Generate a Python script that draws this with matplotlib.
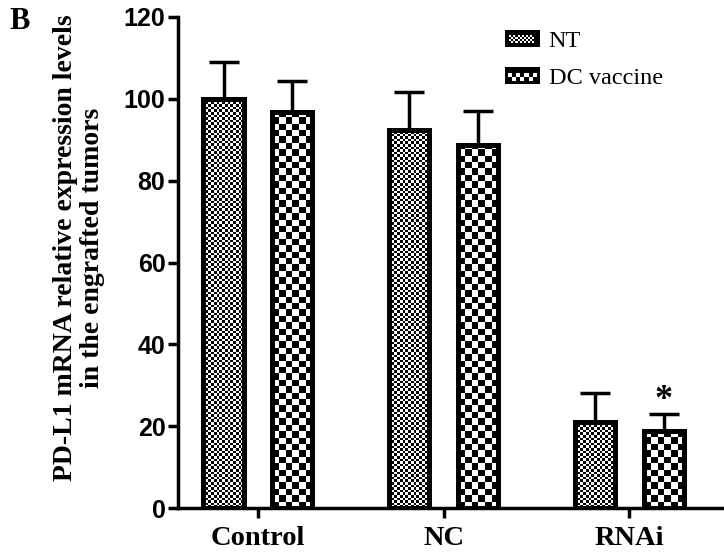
import numpy as np
import matplotlib
matplotlib.use("Agg")
import matplotlib.pyplot as plt
from matplotlib.patches import Rectangle
from matplotlib.legend_handler import HandlerBase

# data
groups = ["Control", "NC", "RNAi"]
nt_vals = [100.0, 92.4, 21.0]
nt_err = [9.0, 9.2, 7.1]
dc_vals = [96.9, 88.6, 18.8]
dc_err = [7.5, 8.5, 4.2]
series = ["NT", "DC vaccine"]
yticks = [0, 20, 40, 60, 80, 100, 120]

serif = "Liberation Serif"
sans = "Liberation Sans"

fig = plt.figure(figsize=(7.24, 5.59), dpi=100)
ax = fig.add_axes([178 / 724, 51 / 559, 546 / 724, 491 / 559])
ax.set_xlim(-0.43, 2.51)
ax.set_ylim(0, 120)

x = np.arange(len(groups))
off = 0.185
w = 0.216


def checker_fill(bars, cell_px):
    # fill each bar with a checkerboard, clipped to the bar
    for b in bars:
        x0, y0 = b.get_x(), b.get_y()
        x1, y1 = x0 + b.get_width(), y0 + b.get_height()
        p0 = ax.transData.transform((x0, y0))
        p1 = ax.transData.transform((x1, y1))
        nx = max(1, int(round((p1[0] - p0[0]) / cell_px)))
        ny = max(1, int(round((p1[1] - p0[1]) / cell_px)))
        ii, jj = np.indices((ny, nx))
        arr = (ii + jj) % 2
        im = ax.imshow(arr, cmap="gray", extent=(x0, x1, y0, y0 + ny * cell_px / (p1[1] - p0[1]) * (y1 - y0)),
                       origin="lower", aspect="auto", interpolation="nearest", zorder=2)
        im.set_clip_path(b)


bars_nt = ax.bar(x - off, nt_vals, w, facecolor="none", edgecolor="black", linewidth=3.6, zorder=3, label=series[0])
bars_dc = ax.bar(x + off, dc_vals, w, facecolor="none", edgecolor="black", linewidth=3.6, zorder=3, label=series[1])
checker_fill(bars_nt, 2.6)
checker_fill(bars_dc, 6.4)

ax.errorbar(x - off, nt_vals, yerr=[np.zeros(3), nt_err], fmt="none", ecolor="black",
            elinewidth=2.5, capsize=11, capthick=2.5, zorder=1)
ax.errorbar(x + off, dc_vals, yerr=[np.zeros(3), dc_err], fmt="none", ecolor="black",
            elinewidth=2.5, capsize=11, capthick=2.5, zorder=1)

# significance star on RNAi / DC vaccine
ax.text(2 + off, dc_vals[2] + dc_err[2] + 3.2, "*", ha="center", va="center",
        fontsize=26, fontweight="bold", family=serif)

ax.set_xlim(-0.43, 2.51)
ax.set_ylim(0, 120)
ax.set_yticks(yticks)
ax.set_xticks(x)
ax.set_xticklabels(groups, fontsize=20.5, fontweight="bold", family=serif)
for t in ax.get_yticklabels():
    t.set_fontfamily(sans)
    t.set_fontweight("bold")
    t.set_fontsize(18)

for s in ["top", "right"]:
    ax.spines[s].set_visible(False)
for s in ["left", "bottom"]:
    ax.spines[s].set_linewidth(2.5)
ax.tick_params(axis="both", length=7, width=2.5, direction="out")
ax.tick_params(axis="y", pad=2)
ax.tick_params(axis="x", pad=6)

fig.text(79 / 724, 1 - 248 / 559, "PD-L1 mRNA relative expression levels\nin the engrafted tumors",
         rotation=90, ha="center", va="center", multialignment="center",
         fontsize=20, fontweight="bold", family=serif, linespacing=1.15)
fig.text(9 / 724, 1 - 29 / 559, "B", ha="left", va="baseline", fontsize=22,
         fontweight="bold", family=serif)


class CheckHandler(HandlerBase):
    def __init__(self, cell, border):
        super().__init__()
        self.cell = cell
        self.border = border

    def create_artists(self, legend, orig_handle, xdescent, ydescent, width, height, fontsize, trans):
        x0, y0 = -xdescent, -ydescent
        arts = [Rectangle((x0, y0), width, height, facecolor="black", edgecolor="none", transform=trans)]
        bx, by = x0 + self.border, y0 + self.border
        iw, ih = width - 2 * self.border, height - 2 * self.border
        nx = int(iw // self.cell)
        ny = int(ih // self.cell)
        for i in range(nx):
            for j in range(ny):
                if (i + j) % 2:
                    arts.append(Rectangle((bx + i * self.cell, by + j * self.cell), self.cell, self.cell,
                                          facecolor="white", edgecolor="none", transform=trans))
        return arts


leg = ax.legend(handles=[bars_nt, bars_dc], labels=series, loc="upper left",
                bbox_to_anchor=(505 / 724, 1 - 30 / 559), bbox_transform=fig.transFigure,
                frameon=False, borderpad=0, borderaxespad=0, handlelength=1.45, handleheight=0.72,
                handletextpad=0.35, labelspacing=0.6,
                prop={"family": serif, "size": 17.5},
                handler_map={bars_nt: CheckHandler(1.5, 3.0), bars_dc: CheckHandler(3.0, 2.0)})

fig.savefig("out.png", dpi=100)
